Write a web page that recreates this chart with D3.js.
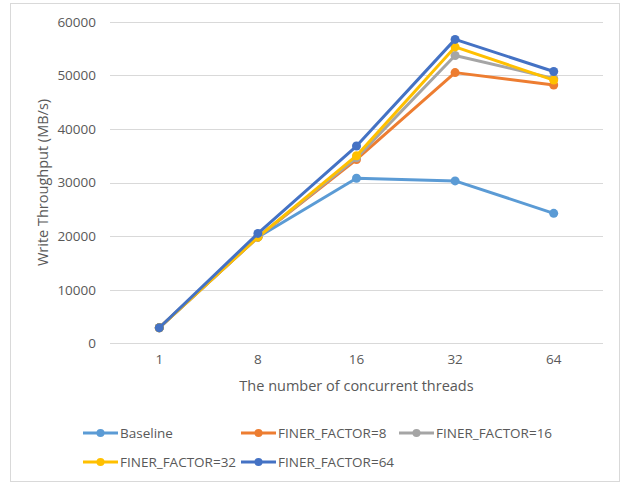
<!DOCTYPE html>
<html>
<head>
<meta charset="utf-8">
<script src="https://cdn.jsdelivr.net/npm/d3@7"></script>
<style>
  html, body { margin: 0; padding: 0; background: #fff; }
  svg { display: block; font-family: "Open Sans", "Liberation Sans", sans-serif; }
</style>
</head>
<body>
<svg id="chart" width="621" height="484"></svg>
<script>
const categories = ["1", "8", "16", "32", "64"];
const seriesNames = ["Baseline", "FINER_FACTOR=8", "FINER_FACTOR=16", "FINER_FACTOR=32", "FINER_FACTOR=64"];
const baseline = [2900, 19800, 30800, 30300, 24250];
const finer8 = [2900, 19800, 34300, 50500, 48200];
const finer16 = [2900, 19800, 34600, 53700, 49400];
const finer32 = [2900, 19800, 35000, 55300, 49100];
const finer64 = [2900, 20500, 36800, 56700, 50700];
const yTicks = [0, 10000, 20000, 30000, 40000, 50000, 60000];
const colors = ["#5B9BD5", "#ED7D31", "#A5A5A5", "#FFC000", "#4472C4"];

const seriesValues = [baseline, finer8, finer16, finer32, finer64];
const series = seriesNames.map((name, i) => ({ name, values: seriesValues[i], color: colors[i] }));

const svg = d3.select("#chart");

// outer chart border
svg.append("rect")
  .attr("x", 10.5).attr("y", 3.5)
  .attr("width", 609).attr("height", 478)
  .attr("fill", "#fff").attr("stroke", "#d9d9d9").attr("stroke-width", 1);

const plot = { left: 110, right: 603, top: 21.7, bottom: 343.3 };

const x = d3.scaleBand().domain(categories).range([plot.left, plot.right]);
const y = d3.scaleLinear().domain([0, 60000]).range([plot.bottom, plot.top]);

// gridlines
svg.append("g")
  .selectAll("line")
  .data(yTicks)
  .join("line")
  .attr("x1", plot.left).attr("x2", plot.right)
  .attr("y1", d => Math.round(y(d)) + 0.5).attr("y2", d => Math.round(y(d)) + 0.5)
  .attr("stroke", "#d9d9d9").attr("stroke-width", 1);

// y axis labels
const yAxis = d3.axisLeft(y).tickValues(yTicks).tickSize(0).tickPadding(0).tickFormat(d3.format("d"));
const gy = svg.append("g").attr("transform", `translate(96,0)`).call(yAxis);
gy.select(".domain").remove();
gy.selectAll("text").attr("fill", "#595959").style("font-size", "13.5px")
  .style("font-family", "'Open Sans', 'Liberation Sans', sans-serif");

// x axis labels
const xAxis = d3.axisBottom(x).tickSize(0).tickPadding(0);
const gx = svg.append("g").attr("transform", `translate(0,${plot.bottom + 11})`).call(xAxis);
gx.select(".domain").remove();
gx.selectAll("text").attr("fill", "#595959").style("font-size", "13.5px")
  .style("font-family", "'Open Sans', 'Liberation Sans', sans-serif");

// axis titles
svg.append("text")
  .attr("x", (plot.left + plot.right) / 2).attr("y", 391)
  .attr("text-anchor", "middle").attr("fill", "#595959")
  .style("font-size", "14.5px")
  .text("The number of concurrent threads");

svg.append("text")
  .attr("transform", `translate(48,${(plot.top + plot.bottom) / 2}) rotate(-90)`)
  .attr("text-anchor", "middle").attr("fill", "#595959")
  .style("font-size", "14.5px")
  .text("Write Throughput (MB/s)");

// lines
const line = d3.line()
  .x((d, i) => x(categories[i]) + x.bandwidth() / 2)
  .y(d => y(d));

const gs = svg.append("g").selectAll("g").data(series).join("g");
gs.append("path")
  .attr("d", d => line(d.values))
  .attr("fill", "none")
  .attr("stroke", d => d.color)
  .attr("stroke-width", 3)
  .attr("stroke-linejoin", "round")
  .attr("stroke-linecap", "round");
gs.selectAll("circle")
  .data(d => d.values.map((v, i) => ({ v, i, color: d.color })))
  .join("circle")
  .attr("cx", d => x(categories[d.i]) + x.bandwidth() / 2)
  .attr("cy", d => y(d.v))
  .attr("r", 4.5)
  .attr("fill", d => d.color);

// legend
const legendPos = [
  { x: 83, y: 433 }, { x: 241, y: 433 }, { x: 399, y: 433 },
  { x: 83, y: 462 }, { x: 241, y: 462 }
];
const lg = svg.append("g").selectAll("g").data(series).join("g")
  .attr("transform", (d, i) => `translate(${legendPos[i].x},${legendPos[i].y})`);
lg.append("line")
  .attr("x1", 0).attr("x2", 35).attr("y1", 0).attr("y2", 0)
  .attr("stroke", d => d.color).attr("stroke-width", 3);
lg.append("circle").attr("cx", 17.5).attr("cy", 0).attr("r", 4).attr("fill", d => d.color);
lg.append("text")
  .attr("x", 37).attr("y", 0).attr("dy", "0.35em")
  .attr("fill", "#595959").style("font-size", "13.5px")
  .text(d => d.name);
</script>
</body>
</html>
